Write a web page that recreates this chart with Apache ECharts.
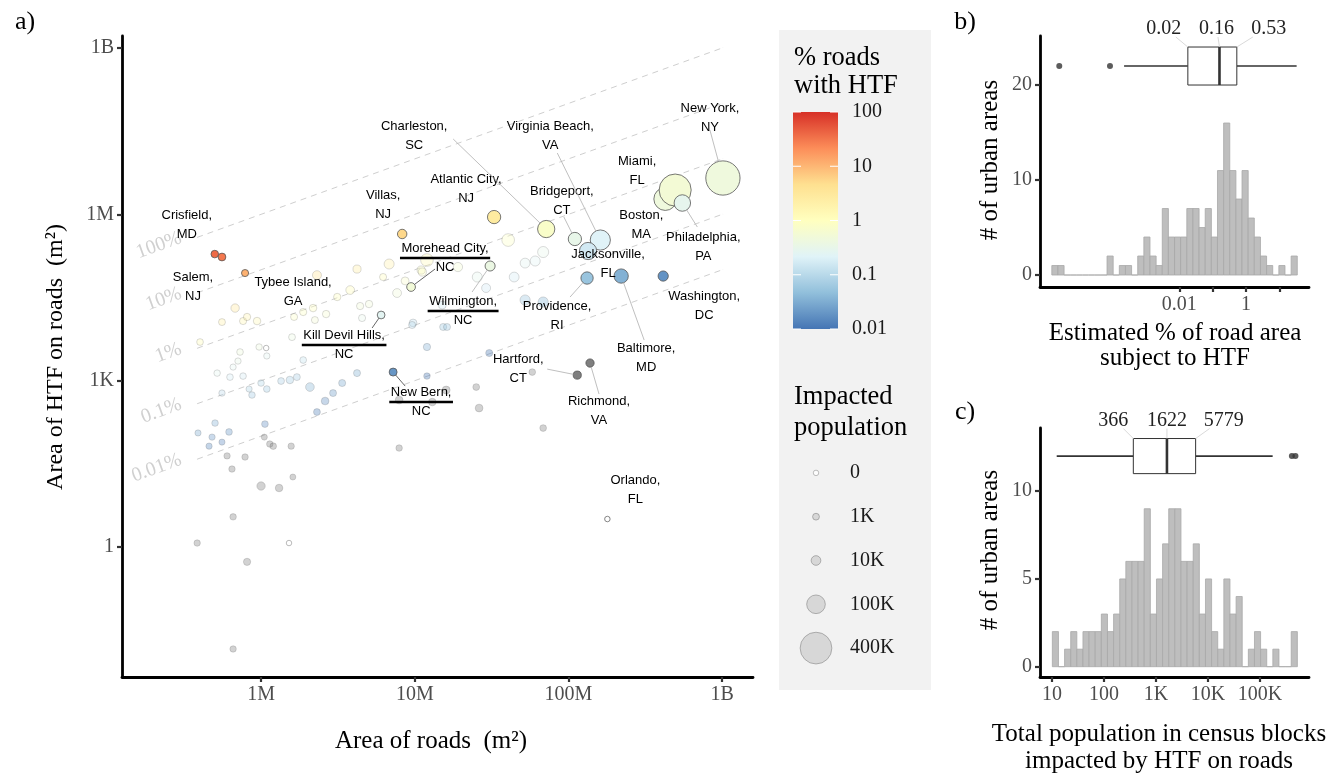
<!DOCTYPE html>
<html><head><meta charset="utf-8">
<script src="https://cdn.jsdelivr.net/npm/echarts@6/dist/echarts.min.js"></script>
<style>html,body{margin:0;padding:0;background:#fff}#c{width:1340px;height:776px}</style>
</head><body><div id="c"></div>
<script>
// ---------------- DATA ----------------
// Labelled urban areas
const cityNames = ['Crisfield, MD','Salem, NJ','Tybee Island, GA','Villas, NJ','Morehead City, NC','Kill Devil Hills, NC','Wilmington, NC','Atlantic City, NJ','Charleston, SC','Bridgeport, CT','Virginia Beach, VA','Jacksonville, FL','Providence, RI','Baltimore, MD','Washington, DC','Hartford, CT','Richmond, VA','Orlando, FL','New Bern, NC','New York, NY','Boston, MA','Miami, FL','Philadelphia, PA'];
const cityRoadArea = [5.0e5,5.57e5,7.87e5,8.28e6,9.46e6,6.04e6,3.09e7,3.28e7,7.16e7,1.10e8,1.61e8,1.34e8,1.32e8,2.20e8,4.13e8,1.14e8,1.38e8,1.79e8,7.23e6,1.01e9,4.26e8,4.94e8,5.50e8];
const cityHtfArea = [1.92e5,1.70e5,8.73e4,4.42e5,4.89e4,1.53e4,1.17e5,8.93e5,5.43e5,3.59e5,3.44e5,2.18e5,7.10e4,7.71e4,7.71e4,1.26e3,2.08e3,3.2,1.43e3,4.52e6,1.89e6,2.74e6,1.60e6];
const cityPopulation = [2500,3000,1500,9000,6000,3000,12000,35000,80000,35000,125000,80000,27000,45000,13000,4000,4500,0,3500,480000,175000,410000,70000];

// Other (unlabelled) urban areas
const otherRoadArea = [6.81e6,4.21e6,2.31e6,1.20e7,6.22e6,8.65e6,1.10e7,3.80e6,3.13e6,7.67e6,4.41e6,5.04e6,6.78e5,5.57e5,7.64e5,8.11e5,9.42e5,4.01e5,1.64e6,1.88e6,2.24e6,2.65e6,2.18e6,1.59e6,4.54e6,9.75e6,9.71e5,1.08e6,1.09e6,7.30e5,7.08e5,1.88e6,6.58e5,7.64e5,5.18e5,6.28e5,1.0e6,1.09e6,1.35e6,1.54e6,1.71e6,2.08e6,2.94e6,3.37e6,2.61e6,2.31e6,4.21e6,5.57e5,8.73e5,1.20e7,1.20e7,3.89e5,5.02e5,4.80e5,5.57e5,6.19e5,4.59e5,1.06e6,1.05e6,1.14e6,1.20e6,1.57e6,6.01e5,7.87e5,6.47e5,1.61e6,1.0e6,1.31e6,6.58e5,3.84e5,1.52e6,8.11e5,6.58e5,7.91e6,7.91e6,1.30e7,1.60e7,3.05e7,5.81e7,2.51e7,2.62e7,6.84e7,4.05e7,5.22e7,6.07e7,6.84e7,4.43e7,2.91e7,2.55e7,5.22e7,6.84e7,1.91e7,1.12e7,1.51e7,9.61e6,1.53e7,1.62e7,8.36e5];
const otherHtfArea = [1.27e5,1.03e5,8.0e4,1.50e5,7.4e4,6.3e4,9.9e4,4.31e4,3.23e4,3.81e4,2.22e4,2.41e4,2.04e4,1.14e4,1.19e4,1.41e4,1.19e4,4.98e3,1.41e4,1.73e4,1.24e4,1.59e4,2.04e4,6.1e3,1.35e4,1.10e4,4.05e3,3.88e3,2.79e3,3.29e3,2.26e3,2.36e3,1.76e3,1.21e3,1.37e3,1.16e3,907,707,986,1.03e3,1.16e3,768,598,907,430,272,1.37e3,598,551,4.05e3,1.21e3,114,172,96,78,119,66,165,96,72,66,66,44,42,25.5,18.3,12.6,11.6,3.5,1.18,1.18,0.54,0.0145,61,448,412,678,3.15e3,1.43e3,768,321,140,3.44e5,1.32e5,1.44e5,2.09e5,7.4e4,4.69e4,7.4e4,2.85e4,2.62e4,1.12e5,9.1e4,2.31e4,1.01e4,9.3e3,9.3e3,707];
const otherPopulation = [12000,4000,7000,30000,1500,3500,4000,6000,2000,6500,1800,2200,5000,1200,1600,1900,2500,900,1400,1700,1300,2100,2400,1100,1600,3000,500,0,350,800,400,900,300,700,600,750,650,800,1000,2500,1200,6000,1300,1500,2800,1100,1400,450,700,1900,600,300,700,400,250,800,350,900,200,600,700,500,450,550,500,150,5000,2500,600,500,0,1800,500,600,3000,2500,3500,1500,800,1000,3000,900,30000,11000,12000,18000,11000,7000,12000,13000,13000,8000,4000,3500,1500,1500,1400,300];

// Reference lines (% of road area with HTF)
const pctLines = [100, 10, 1, 0.1, 0.01];
const pctLineLabels = ['100%', '10%', '1%', '0.1%', '0.01%'];
const lineRoadRange = [3.84e5, 1.01e9];

// Legends
const colorBreaks = [0.01, 0.1, 1, 10, 100];
const sizeLegendPop = [0, 1000, 10000, 100000, 400000];
const sizeLegendLabels = ['0', '1K', '10K', '100K', '400K'];

// Panel b: histogram of % road area with HTF (log10 bins)
const histBCounts = [1,1,0,0,0,0,0,0,0,2,0,1,1,0,2,4,2,1,7,4,4,4,7,7,5,7,4,11,16,11,8,11,6,4,2,1,0,1,0,2];
const histBStartLog = -5.826, histBWidthLog = 0.1841;
const boxBStats = [2.2e-4, 0.018, 0.16, 0.53, 33]; // whisker low, Q1, median, Q3, whisker high
const boxBOutliers = [2.5e-6, 8.3e-5];

// Panel c: histogram of impacted population (log10 bins)
const histCCounts = [2,0,1,2,1,2,2,2,3,2,3,5,6,6,6,9,3,5,7,9,9,6,6,7,3,5,2,1,5,3,4,0,1,2,1,0,1,0,0,2];
const histCStartLog = 1.006, histCWidthLog = 0.1178;
const boxCStats = [12.3, 366, 1622, 5779, 175000];
const boxCOutliers = [410000, 480000];

// ---------------- STYLE / LAYOUT ----------------
const SERIF = '"Liberation Serif","Times New Roman",Times,serif';
const SANS = '"Liberation Sans",Arial,Helvetica,sans-serif';
const TICK_COLOR = '#4d4d4d';
const RDYLBU = ['#4575b4','#91bfdb','#e0f3f8','#ffffbf','#fee090','#fc8d59','#d73027'];
const sizeOf = p => 5.5 + 0.0415 * Math.sqrt(p);

const cityLabelLayout = {
  'Crisfield, MD': {dx:-28, dy:-29},
  'Salem, NJ': {dx:-29, dy:30},
  'Tybee Island, GA': {dx:48, dy:19},
  'Villas, NJ': {dx:-19, dy:-29},
  'Morehead City, NC': {dx:34, dy:-29, line:[24,-18], dark:true, underline:true},
  'Kill Devil Hills, NC': {dx:-37, dy:30, line:[-9,13], dark:true, underline:true},
  'Wilmington, NC': {dx:-27, dy:45, line:[-18,26], underline:true},
  'Atlantic City, NJ': {dx:-28, dy:-28},
  'Charleston, SC': {dx:-132, dy:-93, line:[-93,-90]},
  'Bridgeport, CT': {dx:-13, dy:-38, line:[-11,-22]},
  'Virginia Beach, VA': {dx:-50, dy:-104, line:[-43,-87]},
  'Jacksonville, FL': {dx:20, dy:13},
  'Providence, RI': {dx:-30, dy:38, line:[-17,19]},
  'Baltimore, MD': {dx:25, dy:82, line:[23,64]},
  'Washington, DC': {dx:41, dy:30},
  'Hartford, CT': {dx:-59, dy:-6, line:[-30,-6]},
  'Richmond, VA': {dx:9, dy:48, line:[9,31]},
  'Orlando, FL': {dx:28, dy:-29},
  'New Bern, NC': {dx:28, dy:30, line:[12,14], dark:true, underline:true},
  'New York, NY': {dx:-13, dy:-60, line:[-13,-48]},
  'Miami, FL': {dx:-38, dy:-19},
  'Boston, MA': {dx:-24, dy:26},
  'Philadelphia, PA': {dx:21, dy:44, line:[15,24]}
};

const mctx = document.createElement('canvas').getContext('2d');
function textW(t, font) { mctx.font = font; return mctx.measureText(t).width; }

// ---------------- BUILD ----------------
const chart = echarts.init(document.getElementById('c'), null, {renderer:'canvas', width:1340, height:776});

const logPct = (x, y) => Math.log10(y / x * 100);
const otherData = [], zeroData = [], cityData = [];
otherRoadArea.forEach((x, i) => {
  const y = otherHtfArea[i], p = otherPopulation[i];
  if (p === 0) zeroData.push({value:[x, y, p], itemStyle:{borderColor:'#aaa'}});
  else otherData.push([x, y, p, logPct(x, y)]);
});
cityRoadArea.forEach((x, i) => {
  const y = cityHtfArea[i], p = cityPopulation[i];
  if (p === 0) zeroData.push({value:[x, y, p], itemStyle:{borderColor:'#666'}});
  else cityData.push([x, y, p, logPct(x, y)]);
});

const series = [];
// dashed reference lines
pctLines.forEach((p, k) => {
  series.push({
    type:'line', xAxisIndex:0, yAxisIndex:0, z:1, silent:true,
    data:[{value:[lineRoadRange[0], lineRoadRange[0]*p/100], label:{show:true}},
          {value:[lineRoadRange[1], lineRoadRange[1]*p/100]}],
    symbol:'circle', symbolSize:0.5, showSymbol:true,
    itemStyle:{color:'#d0d0d0'},
    lineStyle:{color:'#c8c8c8', width:0.9, type:[6,5]},
    label:{show:false, position:'left', distance:16, rotate:20, formatter:pctLineLabels[k],
           color:'#d0d0d0', fontFamily:SERIF, fontSize:20}
  });
});
const idxOther = series.length;
series.push({type:'scatter', xAxisIndex:0, yAxisIndex:0, z:2, silent:true, data:otherData,
  symbolSize:v => sizeOf(v[2]), itemStyle:{opacity:0.35, borderColor:'#555', borderWidth:0.6}});
series.push({type:'scatter', xAxisIndex:0, yAxisIndex:0, z:3, silent:true, data:zeroData,
  symbolSize:v => sizeOf(v[2]), itemStyle:{color:'#fff', borderWidth:1}});
const idxCity = series.length;
series.push({type:'scatter', xAxisIndex:0, yAxisIndex:0, z:4, silent:true, data:cityData,
  symbolSize:v => sizeOf(v[2]), itemStyle:{opacity:1, borderColor:'#555', borderWidth:0.8}});

// city labels
series.push({
  type:'custom', xAxisIndex:0, yAxisIndex:0, z:5, silent:true,
  data: cityNames.map((n, i) => [cityRoadArea[i], cityHtfArea[i], i]),
  encode:{x:0, y:1},
  renderItem:(params, api) => {
    const i = api.value(2);
    const name = cityNames[i];
    const cfg = cityLabelLayout[name];
    const pt = api.coord([api.value(0), api.value(1)]);
    const r = sizeOf(cityPopulation[i]) / 2;
    const parts = name.split(', ');
    const l1 = parts[0] + ',', l2 = parts[1];
    const cx = pt[0] + cfg.dx, cy = pt[1] + cfg.dy;
    const children = [];
    if (cfg.line) {
      const ex = pt[0] + cfg.line[0], ey = pt[1] + cfg.line[1];
      const dx = ex - pt[0], dy = ey - pt[1], d = Math.hypot(dx, dy);
      if (d > r) children.push({type:'line', shape:{x1:pt[0]+dx/d*r, y1:pt[1]+dy/d*r, x2:ex, y2:ey},
        style:{stroke:cfg.dark ? '#555' : '#b8b8b8', lineWidth:0.9}});
    }
    const font = '13px ' + SANS;
    children.push({type:'text', x:cx, y:cy-9.3, style:{text:l1, fill:'#000', font:font, align:'center', verticalAlign:'middle'}});
    children.push({type:'text', x:cx, y:cy+9.3, style:{text:l2, fill:'#000', font:font, align:'center', verticalAlign:'middle'}});
    if (cfg.underline) {
      const w = textW(l1, font) + 3;
      children.push({type:'rect', shape:{x:cx - w/2, y:cy - 1.2, width:w, height:2.4}, style:{fill:'#000'}});
    }
    return {type:'group', children};
  }
});

// histogram helpers
function histData(counts, start, width) {
  return counts.map((n, i) => [Math.pow(10, start + i*width), Math.pow(10, start + (i+1)*width), n]);
}
function histRender(params, api) {
  const p0 = api.coord([api.value(0), api.value(2)]);
  const p1 = api.coord([api.value(1), 0]);
  return {type:'rect', shape:{x:p0[0], y:p0[1], width:p1[0]-p0[0], height:p1[1]-p0[1]},
    style:{fill:'#bebebe', stroke:'#a8a8a8', lineWidth:0.8}};
}
function boxRender(half, labelDx, fmt) {
  return (params, api) => {
    const lo = api.value(0), q1 = api.value(1), md = api.value(2), q3 = api.value(3), hi = api.value(4), yc = api.value(5);
    const X = v => api.coord([v, yc])[0];
    const top = api.coord([q1, yc + half])[1], bot = api.coord([q1, yc - half])[1], mid = api.coord([q1, yc])[1];
    const dark = '#333';
    const ch = [
      {type:'line', shape:{x1:X(lo), y1:mid, x2:X(q1), y2:mid}, style:{stroke:dark, lineWidth:1.6}},
      {type:'line', shape:{x1:X(q3), y1:mid, x2:X(hi), y2:mid}, style:{stroke:dark, lineWidth:1.6}},
      {type:'rect', shape:{x:X(q1), y:top, width:X(q3)-X(q1), height:bot-top}, style:{fill:'#fff', stroke:dark, lineWidth:1}},
      {type:'line', shape:{x1:X(md), y1:top, x2:X(md), y2:bot}, style:{stroke:dark, lineWidth:2.6}}
    ];
    [q1, md, q3].forEach((q, k) => {
      const bx = X(q), lx = bx + labelDx[k], ly = top - 18;
      ch.push({type:'line', shape:{x1:lx + (bx-lx)*0.5, y1:ly+8, x2:bx, y2:top}, style:{stroke:'#cfcfcf', lineWidth:0.8}});
      ch.push({type:'text', x:lx, y:ly, style:{text:fmt(q), fill:'#222', font:'20px ' + SERIF, align:'center', verticalAlign:'middle'}});
    });
    return {type:'group', children:ch};
  };
}

// panel b
series.push({type:'custom', xAxisIndex:1, yAxisIndex:1, silent:true, data:histData(histBCounts, histBStartLog, histBWidthLog), encode:{x:[0,1], y:2}, renderItem:histRender});
series.push({type:'custom', xAxisIndex:1, yAxisIndex:1, silent:true, z:3, data:[boxBStats.concat([22])], encode:{x:[0,4], y:5},
  renderItem:boxRender(2, [-24, -3, 32], v => v.toFixed(2))});
series.push({type:'scatter', xAxisIndex:1, yAxisIndex:1, silent:true, z:4, data:boxBOutliers.map(v => [v, 22]), symbolSize:6, itemStyle:{color:'#333'}});
// panel c
series.push({type:'custom', xAxisIndex:2, yAxisIndex:2, silent:true, data:histData(histCCounts, histCStartLog, histCWidthLog), encode:{x:[0,1], y:2}, renderItem:histRender});
series.push({type:'custom', xAxisIndex:2, yAxisIndex:2, silent:true, z:3, data:[boxCStats.concat([12])], encode:{x:[0,4], y:5},
  renderItem:boxRender(1, [-20, 0, 28], v => String(Math.round(v)))});
series.push({type:'scatter', xAxisIndex:2, yAxisIndex:2, silent:true, z:4, data:boxCOutliers.map(v => [v, 12]), symbolSize:6, itemStyle:{color:'#333'}});

// colour bar
series.push({type:'custom', xAxisIndex:3, yAxisIndex:3, silent:true, data:[[0, colorBreaks[0], 1, colorBreaks[colorBreaks.length-1]]], encode:{x:[0,2], y:[1,3]},
  renderItem:(params, api) => {
    const p0 = api.coord([api.value(0), api.value(3)]);
    const p1 = api.coord([api.value(2), api.value(1)]);
    return {type:'rect', shape:{x:p0[0], y:p0[1], width:p1[0]-p0[0], height:p1[1]-p0[1]},
      style:{fill:new echarts.graphic.LinearGradient(0, 1, 0, 0, RDYLBU.map((c, i) => ({offset:i/(RDYLBU.length-1), color:c})))}};
  }});
series.push({type:'custom', xAxisIndex:3, yAxisIndex:3, silent:true, z:3, data:colorBreaks.map(b => [0, b]), encode:{x:0, y:1},
  renderItem:(params, api) => {
    const pl = api.coord([0, api.value(1)]), pr = api.coord([1, api.value(1)]);
    return {type:'group', children:[
      {type:'line', shape:{x1:pl[0], y1:pl[1], x2:pl[0]+8, y2:pl[1]}, style:{stroke:'#fff', lineWidth:1}},
      {type:'line', shape:{x1:pr[0]-8, y1:pr[1], x2:pr[0], y2:pr[1]}, style:{stroke:'#fff', lineWidth:1}}
    ]};
  }});
// size legend
series.push({type:'scatter', xAxisIndex:4, yAxisIndex:4, silent:true,
  data:sizeLegendPop.map((p, i) => ({value:[0.5, i, p], itemStyle:p === 0 ? {color:'#fff', borderColor:'#999'} : {}})),
  symbolSize:v => sizeOf(v[2]), itemStyle:{color:'#d0d0d0', borderColor:'#8a8a8a', borderWidth:0.8}});

// axes
const axisLine = {show:true, onZero:false, lineStyle:{color:'#000', width:2.8}};
const axisTick = (vals) => ({show:true, length:5, lineStyle:{color:'#333', width:2.2}, customValues:vals});
const lab = (vals, fmt) => ({show:true, customValues:vals, formatter:fmt, color:TICK_COLOR, fontFamily:SERIF, fontSize:20, margin:8});
const bigFmt = {0:'1', 3:'1K', 6:'1M', 9:'1B'};
const xFmt = {6:'1M', 7:'10M', 8:'100M', 9:'1B'};
const cFmt = {1:'10', 2:'100', 3:'1K', 4:'10K', 5:'100K'};
const bFmt = {'-2':'0.01', '0':'1'};
const lg = v => Math.round(Math.log10(v));
const TITLE = '25px ' + SERIF, LTITLE = '26.5px ' + SERIF;

const option = {
  animation:false,
  textStyle:{fontFamily:SERIF},
  grid:[
    {left:122, top:36, width:631, height:641, outerBoundsMode:'none'},
    {left:1040, top:36, width:269, height:251, outerBoundsMode:'none'},
    {left:1040, top:428, width:269, height:249, outerBoundsMode:'none'},
    {left:793, top:112, width:45, height:217, outerBoundsMode:'none'},
    {left:795, top:451, width:42, height:219, outerBoundsMode:'none'}
  ],
  xAxis:[
    {type:'log', gridIndex:0, logBase:10, min:1.246e5, max:1.585e9, axisLine, axisTick:axisTick([1e6,1e7,1e8,1e9]),
      axisLabel:lab([1e6,1e7,1e8,1e9], v => xFmt[lg(v)]), splitLine:{show:false}},
    {type:'log', gridIndex:1, logBase:10, min:6.6e-7, max:77.6, axisLine, axisTick:axisTick([0.01,0.1,1,10]),
      axisLabel:lab([0.01,1], v => bFmt[String(lg(v))]), splitLine:{show:false}},
    {type:'log', gridIndex:2, logBase:10, min:5.87, max:8.75e5, axisLine, axisTick:axisTick([10,100,1e3,1e4,1e5]),
      axisLabel:lab([10,100,1e3,1e4,1e5], v => cFmt[lg(v)]), splitLine:{show:false}},
    {type:'value', gridIndex:3, min:0, max:1, show:false},
    {type:'value', gridIndex:4, min:0, max:1, show:false}
  ],
  yAxis:[
    {type:'log', gridIndex:0, logBase:10, min:4.53e-3, max:1.645e9, axisLine, axisTick:axisTick([1,1e3,1e6,1e9]),
      axisLabel:lab([1,1e3,1e6,1e9], v => bigFmt[lg(v)]), splitLine:{show:false}},
    {type:'value', gridIndex:1, min:-1.26, max:25.16, axisLine, axisTick:axisTick([0,10,20]),
      axisLabel:lab([0,10,20], v => String(v)), splitLine:{show:false}},
    {type:'value', gridIndex:2, min:-0.587, max:13.6, axisLine, axisTick:axisTick([0,5,10]),
      axisLabel:lab([0,5,10], v => String(v)), splitLine:{show:false}},
    {type:'log', gridIndex:3, logBase:10, min:0.01, max:100, position:'right', axisLine:{show:false}, axisTick:{show:false}, splitLine:{show:false},
      axisLabel:{show:true, customValues:colorBreaks, formatter:v => String(+(+v).toPrecision(2)), color:'#1a1a1a', fontFamily:SERIF, fontSize:20, margin:14}},
    {type:'category', gridIndex:4, data:sizeLegendLabels, inverse:true, position:'right', axisLine:{show:false}, axisTick:{show:false}, splitLine:{show:false},
      axisLabel:{show:true, color:'#1a1a1a', fontFamily:SERIF, fontSize:20, margin:13}}
  ],
  visualMap:[{type:'continuous', show:false, dimension:3, min:-2, max:2, range:[-1.999999, 2], seriesIndex:[idxOther, idxCity],
    inRange:{color:RDYLBU}, outOfRange:{color:'#7f7f7f'}}],
  graphic:[
    {type:'rect', z:-10, shape:{x:779, y:30, width:152, height:660}, style:{fill:'#f2f2f2'}},
    {type:'text', x:25, y:22, style:{text:'a)', font:'26px ' + SERIF, fill:'#000', align:'center', verticalAlign:'middle'}},
    {type:'text', x:965, y:22, style:{text:'b)', font:'26px ' + SERIF, fill:'#000', align:'center', verticalAlign:'middle'}},
    {type:'text', x:965, y:412, style:{text:'c)', font:'26px ' + SERIF, fill:'#000', align:'center', verticalAlign:'middle'}},
    {type:'text', x:431, y:741, style:{text:'Area of roads  (m²)', font:TITLE, fill:'#000', align:'center', verticalAlign:'middle'}},
    {type:'text', x:56, y:357, rotation:Math.PI/2, style:{text:'Area of HTF on roads  (m²)', font:'24px ' + SERIF, fill:'#000', align:'center', verticalAlign:'middle'}},
    {type:'text', x:990, y:160, rotation:Math.PI/2, style:{text:'# of urban areas', font:TITLE, fill:'#000', align:'center', verticalAlign:'middle'}},
    {type:'text', x:990, y:550, rotation:Math.PI/2, style:{text:'# of urban areas', font:TITLE, fill:'#000', align:'center', verticalAlign:'middle'}},
    {type:'text', x:1175, y:333, style:{text:'Estimated % of road area', font:TITLE, fill:'#000', align:'center', verticalAlign:'middle'}},
    {type:'text', x:1175, y:358, style:{text:'subject to HTF', font:TITLE, fill:'#000', align:'center', verticalAlign:'middle'}},
    {type:'text', x:1159, y:734, style:{text:'Total population in census blocks', font:TITLE, fill:'#000', align:'center', verticalAlign:'middle'}},
    {type:'text', x:1159, y:761, style:{text:'impacted by HTF on roads', font:TITLE, fill:'#000', align:'center', verticalAlign:'middle'}},
    {type:'text', x:794, y:58, style:{text:'% roads', font:LTITLE, fill:'#000', align:'left', verticalAlign:'middle'}},
    {type:'text', x:794, y:86, style:{text:'with HTF', font:LTITLE, fill:'#000', align:'left', verticalAlign:'middle'}},
    {type:'text', x:794, y:397, style:{text:'Impacted', font:LTITLE, fill:'#000', align:'left', verticalAlign:'middle'}},
    {type:'text', x:794, y:428, style:{text:'population', font:LTITLE, fill:'#000', align:'left', verticalAlign:'middle'}}
  ],
  series
};
chart.setOption(option);
</script></body></html>
